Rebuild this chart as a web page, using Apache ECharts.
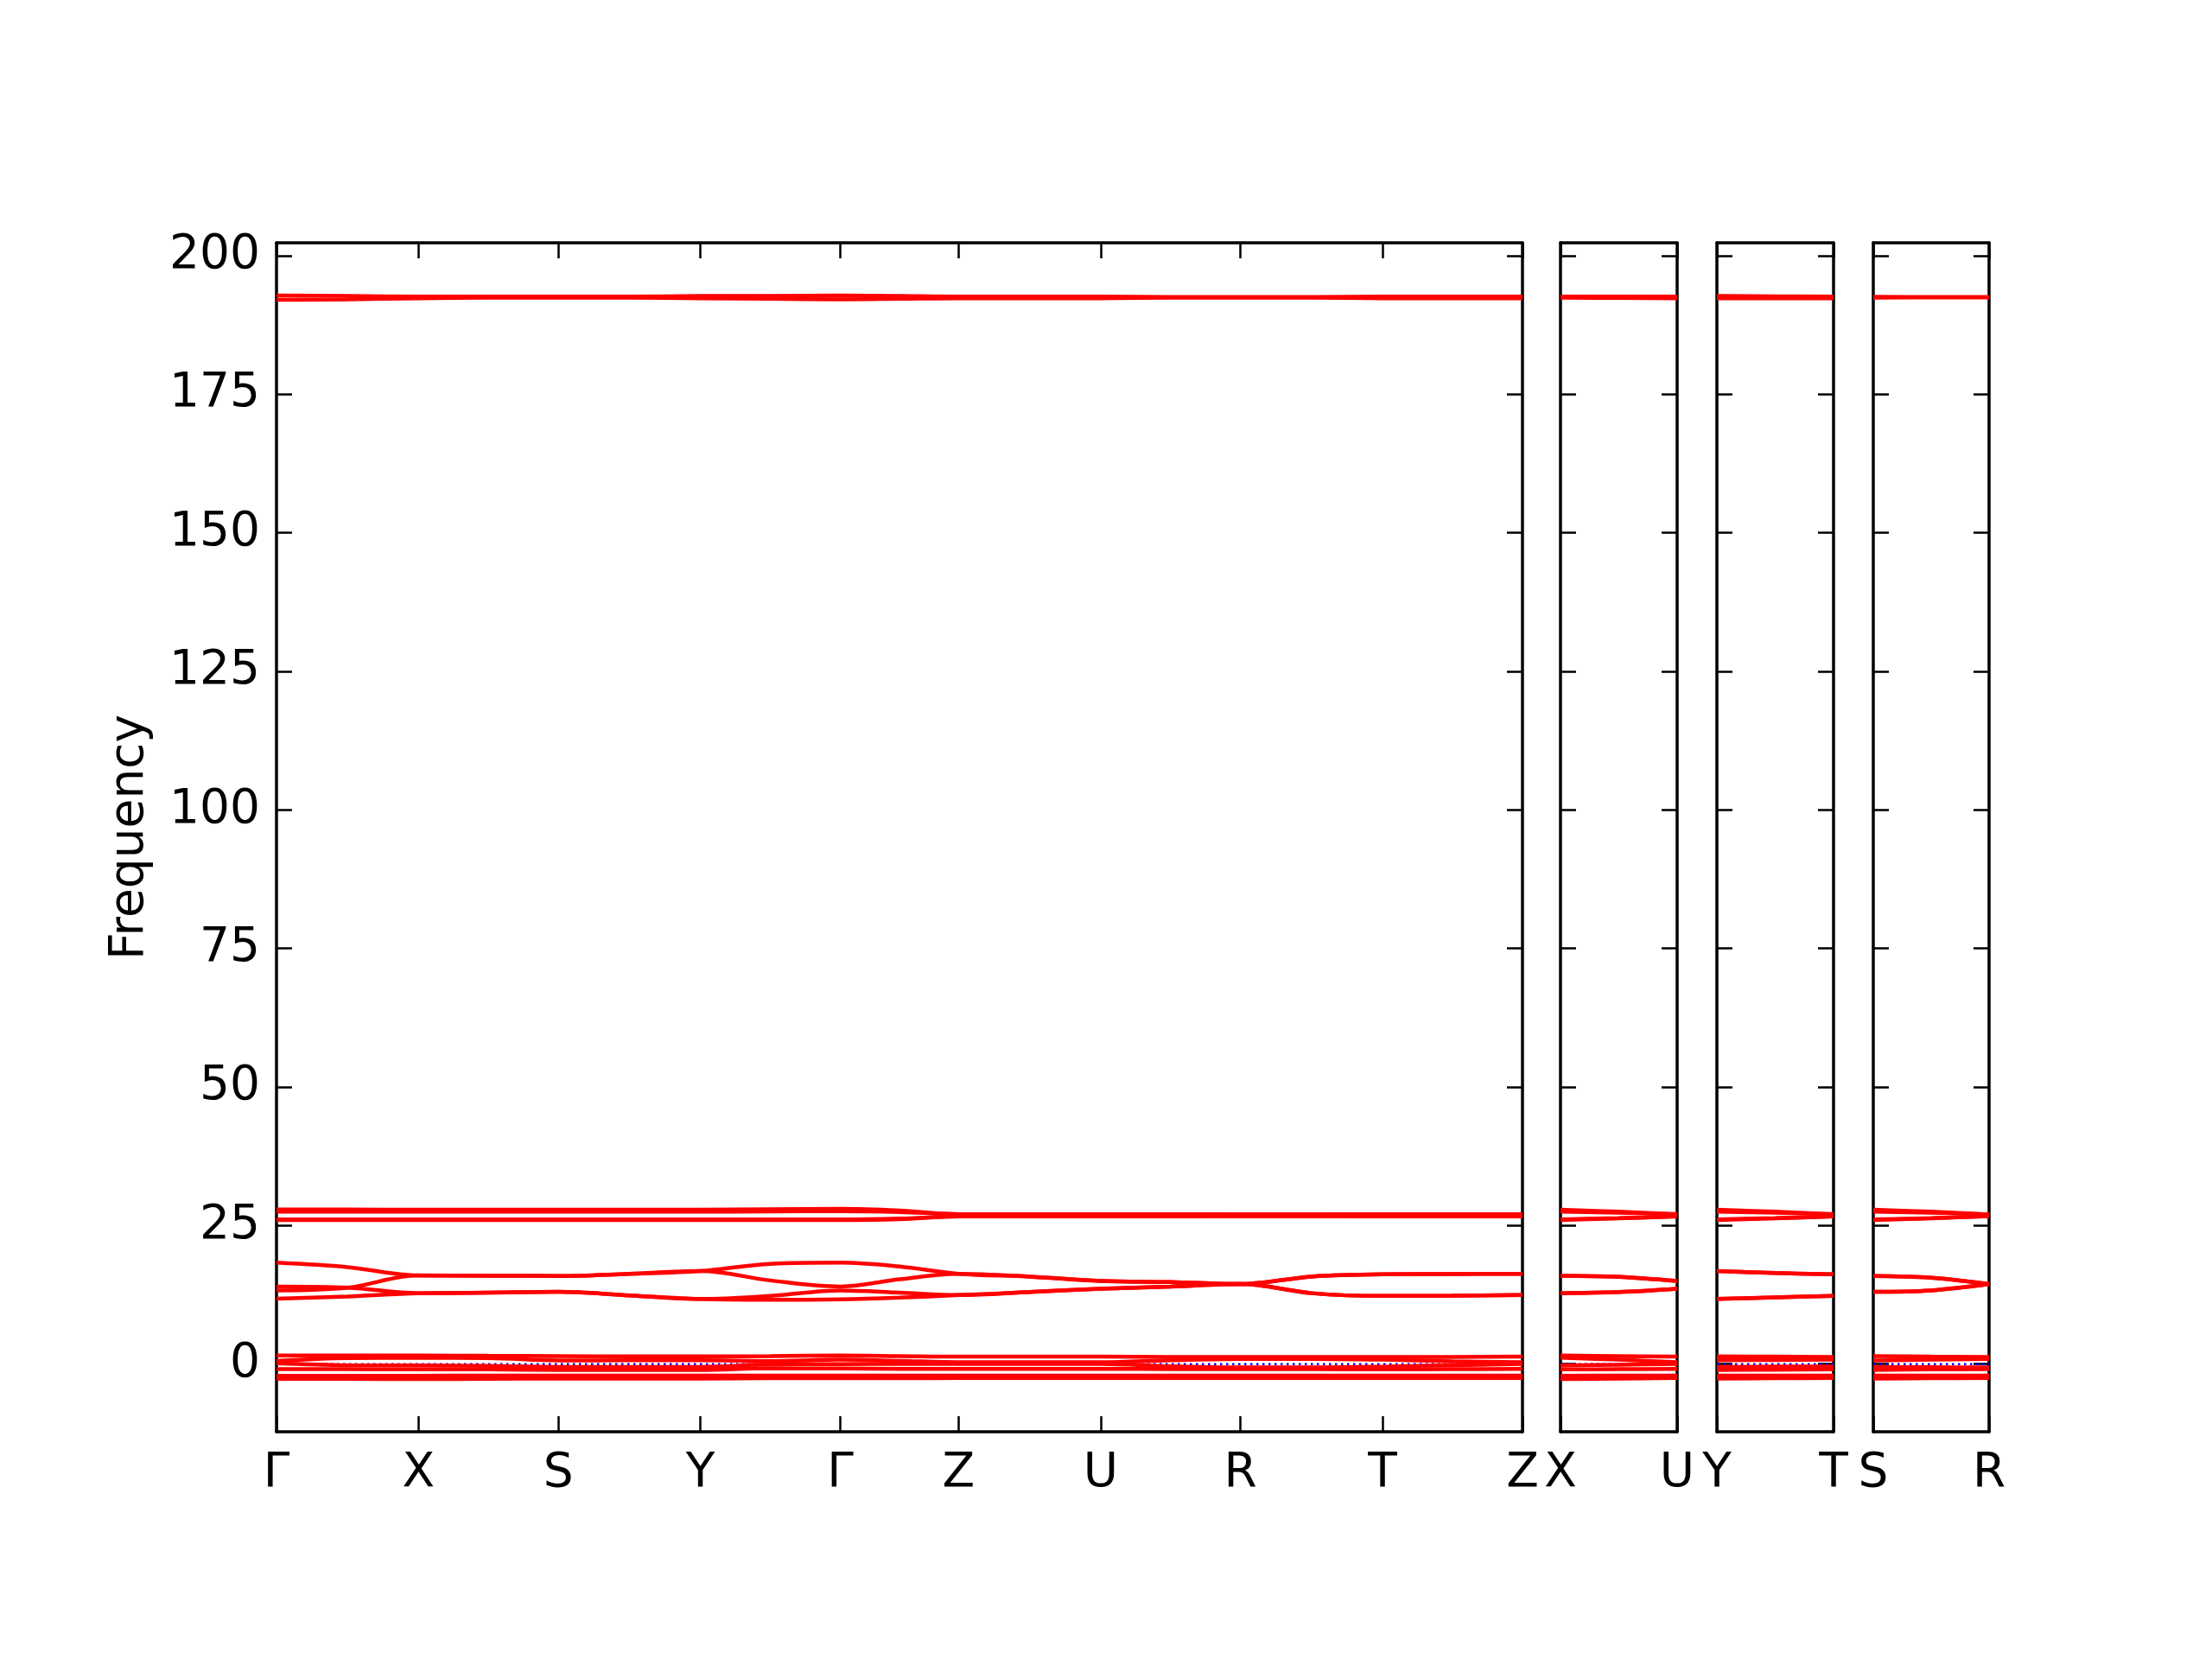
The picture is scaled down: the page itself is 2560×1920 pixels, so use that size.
<!DOCTYPE html>
<html><head><meta charset="utf-8">
<script src="https://cdn.jsdelivr.net/npm/echarts@6/dist/echarts.min.js"></script>
<style>html,body{margin:0;padding:0;background:#fff}#c{width:2560px;height:1920px}</style>
</head><body><div id="c"></div>
<script>
// ---------------- DATA ----------------
const freqTicks = [0, 25, 50, 75, 100, 125, 150, 175, 200];
const freqRange = [-12.2, 202.3];
const zeroLevel = 0;

// k-path segments (reciprocal-space lengths) and high-symmetry labels
const mainLabels = ['Γ', 'X', 'S', 'Y', 'Γ', 'Z', 'U', 'R', 'T', 'Z'];
const mainSegLen = [0.1645, 0.162, 0.1645, 0.162, 0.137, 0.1645, 0.162, 0.1645, 0.162];
const xuLabels = ['X', 'U'];
const ytLabels = ['Y', 'T'];
const srLabels = ['S', 'R'];
const sideSegLen = [0.137];

// Main path samples: Γ, mid, X, mid, S, mid, Y, mid, Γ, mid, Z, mid, U, mid, R, mid, T, mid, Z
const mainHigh = [
  [192.8, 192.7, 192.6, 192.6, 192.6, 192.6, 192.7, 192.7, 192.8, 192.7, 192.6, 192.6, 192.6, 192.5, 192.5, 192.5, 192.6, 192.6, 192.6],
  [192.0, 192.1, 192.3, 192.4, 192.4, 192.4, 192.3, 192.2, 192.1, 192.2, 192.3, 192.3, 192.3, 192.4, 192.4, 192.4, 192.3, 192.3, 192.3]
];
const mainUpper = [
  [27.9, 27.9, 27.85, 27.85, 27.85, 27.85, 27.85, 27.95, 28.0, 27.7, 27.05, 27.05, 27.05, 27.05, 27.0, 27.0, 27.05, 27.05, 27.05],
  [27.5, 27.5, 27.5, 27.5, 27.5, 27.5, 27.5, 27.55, 27.6, 27.45, 27.05, 27.05, 27.05, 27.05, 27.0, 27.0, 27.05, 27.05, 27.05],
  [26.1, 26.1, 26.1, 26.1, 26.1, 26.1, 26.1, 26.1, 26.1, 26.25, 26.65, 26.65, 26.65, 26.65, 26.7, 26.7, 26.65, 26.65, 26.65],
  [26.0, 26.0, 26.0, 26.0, 26.0, 26.0, 26.0, 26.0, 26.0, 26.15, 26.65, 26.65, 26.65, 26.65, 26.7, 26.7, 26.65, 26.65, 26.65]
];
const mainMiddle = [
  [18.3, 17.5, 16.0, 15.95, 15.9, 16.3, 16.8, 18.1, 18.3, 17.6, 16.3, 15.8, 15.0, 14.8, 14.45, 15.8, 16.2, 16.25, 16.3],
  [13.3, 13.8, 16.0, 15.95, 15.9, 16.3, 16.8, 15.1, 14.0, 15.3, 16.3, 15.8, 15.0, 14.8, 14.45, 15.8, 16.2, 16.25, 16.3],
  [14.0, 13.8, 12.8, 12.9, 13.05, 12.4, 11.75, 12.3, 13.3, 12.9, 12.45, 13.0, 13.6, 14.0, 14.45, 12.8, 12.3, 12.35, 12.45],
  [11.8, 12.2, 12.8, 12.9, 13.05, 12.4, 11.75, 11.6, 11.7, 12.0, 12.45, 13.0, 13.6, 14.0, 14.45, 12.8, 12.3, 12.35, 12.45]
];
const mainLow = [
  [1.55, 1.55, 1.55, 1.5, 1.45, 1.4, 1.4, 1.45, 1.55, 1.45, 1.35, 1.35, 1.35, 1.3, 1.3, 1.3, 1.3, 1.3, 1.35],
  [0.6, 1.1, 1.15, 1.1, 0.65, 0.7, 0.7, 0.55, 0.8, 0.6, 0.35, 0.35, 0.35, 0.7, 0.95, 0.95, 0.8, 0.5, 0.35],
  [0.15, -0.2, -0.25, -0.3, -0.5, -0.5, -0.5, -0.05, 0.0, 0.05, 0.05, 0.05, 0.05, -0.4, -0.6, -0.6, -0.45, -0.2, 0.05],
  [-0.9, -0.9, -0.95, -0.95, -1.05, -1.05, -1.05, -0.75, -0.8, -0.85, -0.85, -0.85, -0.85, -0.9, -0.9, -0.9, -0.95, -0.9, -0.85],
  [-2.1, -2.1, -2.1, -2.05, -2.05, -2.05, -2.05, -2.05, -2.05, -2.05, -2.05, -2.05, -2.05, -2.05, -2.05, -2.05, -2.05, -2.05, -2.05],
  [-2.65, -2.65, -2.7, -2.65, -2.6, -2.6, -2.6, -2.55, -2.55, -2.55, -2.5, -2.5, -2.5, -2.5, -2.5, -2.5, -2.5, -2.5, -2.5]
];

// X–U panel samples: X, mid, U
const xuHigh = [[192.6, 192.6, 192.6], [192.4, 192.35, 192.3]];
const xuUpper = [[27.85, 27.5, 27.05], [27.5, 27.3, 27.05], [26.1, 26.35, 26.65], [26.0, 26.3, 26.65]];
const xuMiddle = [[15.95, 15.75, 15.0], [15.95, 15.75, 15.0], [12.8, 13.0, 13.6], [12.8, 13.0, 13.6]];
const xuLow = [[1.55, 1.45, 1.35], [1.15, 0.8, 0.35], [-0.25, -0.1, 0.05], [-0.95, -0.9, -0.85], [-2.1, -2.05, -2.05], [-2.7, -2.6, -2.5]];

// Y–T panel samples: Y, mid, T
const ytHigh = [[192.7, 192.65, 192.6], [192.3, 192.3, 192.3]];
const ytUpper = [[27.85, 27.5, 27.05], [27.5, 27.3, 27.05], [26.1, 26.35, 26.65], [26.0, 26.3, 26.65]];
const ytMiddle = [[16.8, 16.45, 16.2], [16.8, 16.45, 16.2], [11.75, 12.05, 12.3], [11.75, 12.05, 12.3]];
const ytLow = [[1.4, 1.35, 1.3], [0.7, 0.75, 0.8], [-0.5, -0.45, -0.45], [-1.05, -1.0, -0.95], [-2.05, -2.05, -2.05], [-2.6, -2.55, -2.5]];

// S–R panel samples: S, mid, R
const srHigh = [[192.55, 192.5, 192.5], [192.4, 192.45, 192.45]];
const srUpper = [[27.85, 27.5, 27.0], [27.5, 27.3, 27.0], [26.1, 26.35, 26.7], [26.0, 26.3, 26.7]];
const srMiddle = [[15.9, 15.6, 14.45], [15.9, 15.6, 14.45], [13.05, 13.3, 14.45], [13.05, 13.3, 14.45]];
const srLow = [[1.45, 1.35, 1.3], [0.65, 0.8, 0.95], [-0.5, -0.55, -0.6], [-1.05, -0.95, -0.9], [-2.05, -2.05, -2.05], [-2.6, -2.55, -2.5]];

// ---------------- LAYOUT / STYLE ----------------
const FONT = 'DejaVu Sans';
const FS = 55;
const panels = [
  { labels: mainLabels, seg: mainSegLen, bands: [].concat(mainHigh, mainUpper, mainMiddle, mainLow), left: 320, width: 1442, main: true },
  { labels: xuLabels, seg: sideSegLen, bands: [].concat(xuHigh, xuUpper, xuMiddle, xuLow), left: 1806, width: 135 },
  { labels: ytLabels, seg: sideSegLen, bands: [].concat(ytHigh, ytUpper, ytMiddle, ytLow), left: 1987, width: 135 },
  { labels: srLabels, seg: sideSegLen, bands: [].concat(srHigh, srUpper, srMiddle, srLow), left: 2168, width: 134 }
];
const TOP = 281, HEIGHT = 1376;

function samplePositions(seg) {
  const xs = [0]; let acc = 0;
  seg.forEach(l => { xs.push(acc + l / 2); acc += l; xs.push(acc); });
  return xs;
}
function tickPositions(seg) {
  const t = [0]; let acc = 0;
  seg.forEach(l => { acc += l; t.push(acc); });
  return t;
}

const grid = [], xAxis = [], yAxis = [], series = [];
const lineBlack = { color: '#000', width: 3.5 };
panels.forEach((p, i) => {
  const ticks = tickPositions(p.seg);
  const total = ticks[ticks.length - 1];
  const xs = samplePositions(p.seg);
  grid.push({ left: p.left, width: p.width, top: TOP, height: HEIGHT, containLabel: false, outerBoundsMode: 'none' });
  const fmt = v => { const k = ticks.findIndex(t => Math.abs(t - v) < 1e-6); return k >= 0 ? p.labels[k] : ''; };
  xAxis.push({
    type: 'value', gridIndex: i, position: 'bottom', min: 0, max: total,
    axisLine: { show: true, onZero: false, lineStyle: lineBlack },
    axisTick: { show: true, inside: true, length: 18, lineStyle: { color: '#000', width: 2.5 }, customValues: ticks },
    axisLabel: { show: true, customValues: ticks, formatter: fmt, fontFamily: FONT, fontSize: FS, color: '#000', margin: 21, hideOverlap: false, showMinLabel: true, showMaxLabel: true },
    splitLine: { show: false }
  });
  xAxis.push({
    type: 'value', gridIndex: i, position: 'top', min: 0, max: total,
    axisLine: { show: true, onZero: false, lineStyle: lineBlack },
    axisTick: { show: true, inside: true, length: 18, lineStyle: { color: '#000', width: 2.5 }, customValues: ticks },
    axisLabel: { show: false }, splitLine: { show: false }
  });
  yAxis.push({
    type: 'value', gridIndex: i, position: 'left', min: freqRange[0], max: freqRange[1],
    name: p.main ? 'Frequency' : '', nameLocation: 'middle', nameGap: 142,
    nameTextStyle: { fontFamily: FONT, fontSize: FS, color: '#000' },
    axisLine: { show: true, onZero: false, lineStyle: lineBlack },
    axisTick: { show: true, inside: true, length: 18, lineStyle: { color: '#000', width: 2.5 }, customValues: freqTicks },
    axisLabel: { show: !!p.main, customValues: freqTicks, fontFamily: FONT, fontSize: FS, color: '#000', margin: 19, padding: [7, 0, 0, 0] },
    splitLine: { show: false }
  });
  yAxis.push({
    type: 'value', gridIndex: i, position: 'right', min: freqRange[0], max: freqRange[1],
    axisLine: { show: true, onZero: false, lineStyle: lineBlack },
    axisTick: { show: true, inside: true, length: 18, lineStyle: { color: '#000', width: 2.5 }, customValues: freqTicks },
    axisLabel: { show: false }, splitLine: { show: false }
  });
  // zero reference line (blue dotted)
  series.push({
    type: 'line', xAxisIndex: 2 * i, yAxisIndex: 2 * i, z: 1,
    data: [[0, zeroLevel], [total, zeroLevel]], showSymbol: false, symbol: 'none', silent: true,
    lineStyle: { color: '#0000ff', width: 2.5, type: [2.5, 4.5] }
  });
  p.bands.forEach(b => {
    series.push({
      type: 'line', xAxisIndex: 2 * i, yAxisIndex: 2 * i, z: 3,
      data: xs.map((x, k) => [x, b[k]]), showSymbol: false, symbol: 'none', smooth: 0.35,
      lineStyle: { color: '#ff0000', width: 4.5 }, clip: true
    });
  });
});

const chart = echarts.init(document.getElementById('c'), null, { renderer: 'canvas' });
chart.setOption({
  animation: false, backgroundColor: '#ffffff',
  grid, xAxis, yAxis, series
});
</script></body></html>
